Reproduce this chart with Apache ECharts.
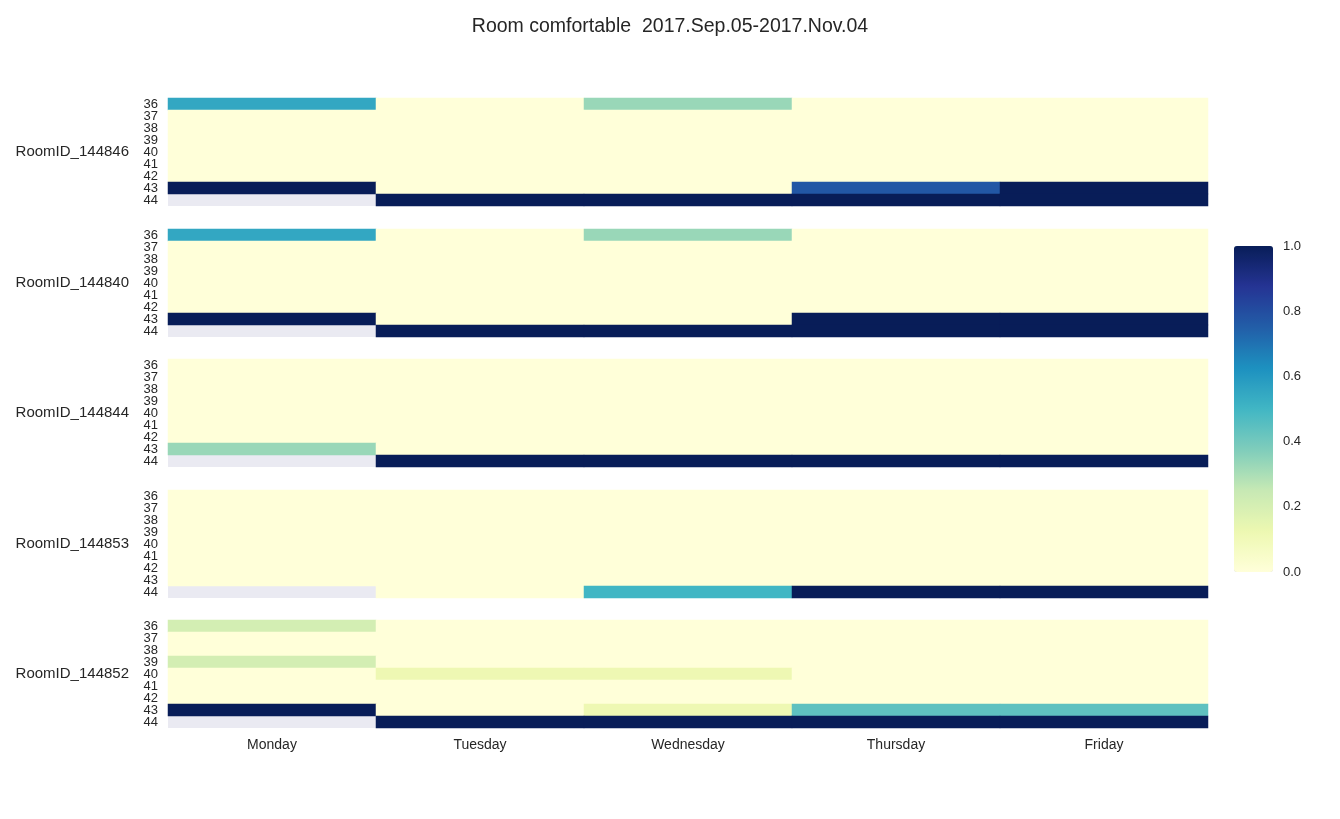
<!DOCTYPE html>
<html>
<head>
<meta charset="utf-8">
<script src="https://cdn.jsdelivr.net/npm/echarts@6/dist/echarts.min.js"></script>
<style>html,body{margin:0;padding:0;background:#fff;}#main{width:1340px;height:819px;}</style>
</head>
<body>
<div id="main"></div>
<script>
const days = ['Monday', 'Tuesday', 'Wednesday', 'Thursday', 'Friday'];
const weeks = ['36', '37', '38', '39', '40', '41', '42', '43', '44'];
const rooms = ['RoomID_144846', 'RoomID_144840', 'RoomID_144844', 'RoomID_144853', 'RoomID_144852'];
const colorbarTicks = [0, 0.2, 0.4, 0.6, 0.8, 1.0];

// rows = weeks 36..44, columns = Monday..Friday; null = no data
const room_144846 = [
  [0.55, 0, 0.33, 0, 0],
  [0, 0, 0, 0, 0],
  [0, 0, 0, 0, 0],
  [0, 0, 0, 0, 0],
  [0, 0, 0, 0, 0],
  [0, 0, 0, 0, 0],
  [0, 0, 0, 0, 0],
  [1, 0, 0, 0.77, 1],
  [null, 1, 1, 1, 1]
];
const room_144840 = [
  [0.55, 0, 0.33, 0, 0],
  [0, 0, 0, 0, 0],
  [0, 0, 0, 0, 0],
  [0, 0, 0, 0, 0],
  [0, 0, 0, 0, 0],
  [0, 0, 0, 0, 0],
  [0, 0, 0, 0, 0],
  [1, 0, 0, 1, 1],
  [null, 1, 1, 1, 1]
];
const room_144844 = [
  [0, 0, 0, 0, 0],
  [0, 0, 0, 0, 0],
  [0, 0, 0, 0, 0],
  [0, 0, 0, 0, 0],
  [0, 0, 0, 0, 0],
  [0, 0, 0, 0, 0],
  [0, 0, 0, 0, 0],
  [0.33, 0, 0, 0, 0],
  [null, 1, 1, 1, 1]
];
const room_144853 = [
  [0, 0, 0, 0, 0],
  [0, 0, 0, 0, 0],
  [0, 0, 0, 0, 0],
  [0, 0, 0, 0, 0],
  [0, 0, 0, 0, 0],
  [0, 0, 0, 0, 0],
  [0, 0, 0, 0, 0],
  [0, 0, 0, 0, 0],
  [null, 0, 0.5, 1, 1]
];
const room_144852 = [
  [0.21, 0, 0, 0, 0],
  [0, 0, 0, 0, 0],
  [0, 0, 0, 0, 0],
  [0.21, 0, 0, 0, 0],
  [0, 0.12, 0.12, 0, 0],
  [0, 0, 0, 0, 0],
  [0, 0, 0, 0, 0],
  [1, 0, 0.12, 0.44, 0.44],
  [null, 1, 1, 1, 1]
];
const roomData = [room_144846, room_144840, room_144844, room_144853, room_144852];

const YlGnBu = ['#ffffd9', '#edf8b1', '#c7e9b4', '#7fcdbb', '#41b6c4', '#1d91c0', '#225ea8', '#253494', '#081d58'];
const textColor = '#262626';
const FONT = 'Liberation Sans, Arial, sans-serif';
const gridTops = [98, 229, 359, 490, 620];
const gridH = 108;

const grids = [], xAxes = [], yAxes = [], series = [];
rooms.forEach((room, i) => {
  grids.push({left: 168, width: 1040, top: gridTops[i], height: gridH, show: true,
    backgroundColor: '#eaeaf2', borderWidth: 0});
  xAxes.push({type: 'category', gridIndex: i, data: days,
    axisLine: {show: false}, axisTick: {show: false}, splitLine: {show: false},
    axisLabel: {show: i === rooms.length - 1, color: textColor, fontSize: 14, margin: 10,
      fontFamily: FONT}});
  yAxes.push({type: 'category', gridIndex: i, data: weeks, inverse: true,
    name: room, nameLocation: 'middle', nameRotate: 0, nameGap: 39,
    nameTextStyle: {color: textColor, fontSize: 15, align: 'right', fontFamily: FONT},
    axisLine: {show: false}, axisTick: {show: false}, splitLine: {show: false},
    axisLabel: {interval: 0, hideOverlap: false, color: textColor, fontSize: 13, margin: 10,
      lineHeight: 12, fontFamily: FONT}});
  const d = [];
  roomData[i].forEach((row, r) => {
    row.forEach((v, c) => { if (v !== null) d.push([c, r, v]); });
  });
  series.push({type: 'heatmap', xAxisIndex: i, yAxisIndex: i, data: d,
    itemStyle: {borderWidth: 0}, emphasis: {disabled: true}, progressive: 0});
});

// colorbar tick axis
grids.push({left: 1234, top: 246, width: 39, height: 326, show: false});
xAxes.push({type: 'value', gridIndex: 5, show: false, min: 0, max: 1});
yAxes.push({type: 'value', gridIndex: 5, position: 'right', min: colorbarTicks[0],
  max: colorbarTicks[colorbarTicks.length - 1], interval: 0.2,
  axisLine: {show: false}, axisTick: {show: false}, splitLine: {show: false},
  axisLabel: {color: textColor, fontSize: 13, margin: 10, formatter: v => v.toFixed(1),
    fontFamily: FONT}});

const chart = echarts.init(document.getElementById('main'), null, {renderer: 'canvas'});
chart.setOption({
  backgroundColor: '#ffffff',
  animation: false,
  title: {text: 'Room comfortable  2017.Sep.05-2017.Nov.04', left: 'center', top: 12,
    textStyle: {color: textColor, fontSize: 19.5, fontWeight: 'normal', fontFamily: FONT}},
  grid: grids,
  xAxis: xAxes,
  yAxis: yAxes,
  visualMap: {type: 'continuous', min: 0, max: 1, seriesIndex: [0, 1, 2, 3, 4],
    left: 1234, top: 246, itemWidth: 39, itemHeight: 326, padding: 0,
    calculable: false, hoverLink: false, text: null, showLabel: false,
    textStyle: {color: 'transparent'},
    inRange: {color: YlGnBu}},
  series: series
});
</script>
</body>
</html>
